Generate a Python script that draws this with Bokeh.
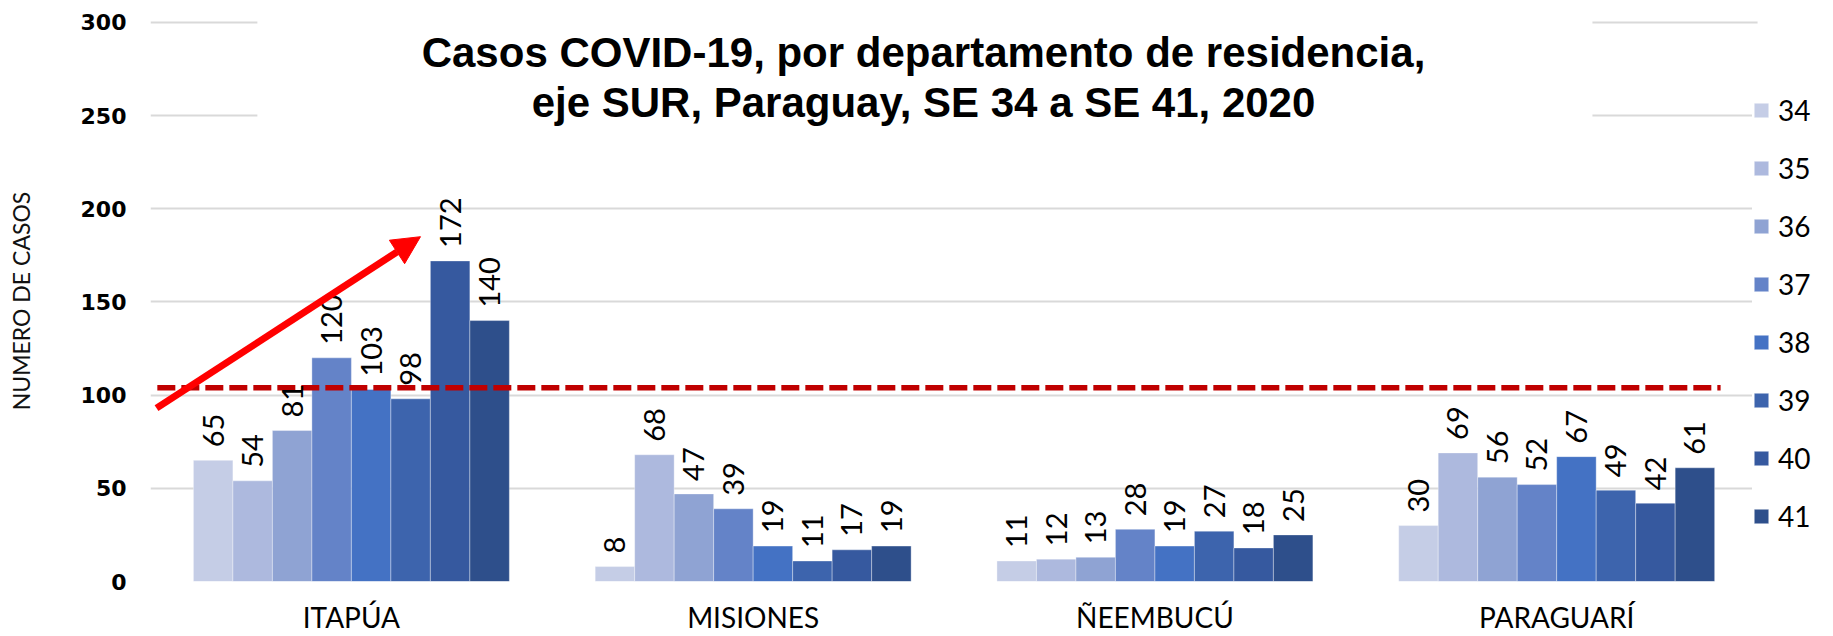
import numpy as np
from bokeh.plotting import figure
from bokeh.models import (ColumnDataSource, Range1d, FixedTicker, Legend, LegendItem,
                          Label, Arrow, NormalHead, BoxAnnotation)
from bokeh.core.properties import value
from bokeh.embed import file_html
from bokeh.resources import INLINE

# ---------------- data ----------------
departamentos = ["ITAPÚA", "MISIONES", "ÑEEMBUCÚ", "PARAGUARÍ"]
semanas = ["34", "35", "36", "37", "38", "39", "40", "41"]
se34 = [65, 8, 11, 30]
se35 = [54, 68, 12, 69]
se36 = [81, 47, 13, 56]
se37 = [120, 39, 28, 52]
se38 = [103, 19, 19, 67]
se39 = [98, 11, 27, 49]
se40 = [172, 17, 18, 42]
se41 = [140, 19, 25, 61]
series = [se34, se35, se36, se37, se38, se39, se40, se41]
colores = ["#C5CDE6", "#ADB9DE", "#8FA3D3", "#6483C8",
           "#4472C4", "#3D64AD", "#36599F", "#2E4F8B"]
umbral = 104
titulo_1 = "Casos COVID-19, por departamento de residencia,"
titulo_2 = "eje SUR, Paraguay, SE 34 a SE 41, 2020"
y_ticks = [0, 50, 100, 150, 200, 250, 300]

# ---------------- figure ----------------
# frame spans to the right edge so that the legend (inside the frame) is not clipped
p = figure(width=1833, height=636, x_range=Range1d(0, 4.189), y_range=Range1d(0, 301),
           output_backend="svg", toolbar_location=None,
           min_border_left=150, min_border_right=0, min_border_top=20, min_border_bottom=54)
p.outline_line_color = None
p.background_fill_color = "white"
p.xgrid.visible = False

p.yaxis.ticker = FixedTicker(ticks=y_ticks)
p.ygrid.grid_line_color = "#D9D9D9"
p.ygrid.grid_line_width = 1.8
p.yaxis.axis_line_color = None
p.yaxis.major_tick_line_color = None
p.yaxis.minor_tick_line_color = None
p.yaxis.major_tick_out = 0
p.yaxis.major_tick_in = 0
p.yaxis.major_label_text_font = "DejaVu Sans"
p.yaxis.major_label_text_font_style = "bold"
p.yaxis.major_label_text_font_size = "22px"
p.yaxis.major_label_text_color = "black"
p.yaxis.major_label_standoff = 24
p.yaxis.axis_label = "NUMERO DE CASOS"
p.yaxis.axis_label_text_font = "Lato"
p.yaxis.axis_label_text_font_style = "normal"
p.yaxis.axis_label_text_font_size = "23px"
p.yaxis.axis_label_text_color = "#111111"
p.yaxis.axis_label_standoff = 43

centros = [i + 0.5 for i in range(len(departamentos))]
p.xaxis.ticker = FixedTicker(ticks=centros)
p.xaxis.major_label_overrides = {c: d for c, d in zip(centros, departamentos)}
p.xaxis.axis_label = None
p.xaxis.axis_line_color = None
p.xaxis.major_tick_line_color = None
p.xaxis.minor_tick_line_color = None
p.xaxis.major_tick_out = 0
p.xaxis.major_tick_in = 0
p.xaxis.major_label_text_font = "Lato"
p.xaxis.major_label_text_font_size = "28px"
p.xaxis.major_label_text_color = "black"
p.xaxis.major_label_standoff = 18

# ---------------- bars ----------------
bar_w = 0.0983
n = len(semanas)
items = []
text_sources = []
for j, (sem, vals, col) in enumerate(zip(semanas, series, colores)):
    xs = [c + (j - (n - 1) / 2) * bar_w for c in centros]
    src = ColumnDataSource(dict(x=xs, top=vals, label=[str(v) for v in vals]))
    r = p.vbar(x="x", top="top", width=bar_w, bottom=0, source=src,
               fill_color=col, line_color="white", line_alpha=0.35, line_width=1)
    items.append(LegendItem(label=sem, renderers=[r]))
    text_sources.append(src)

# threshold dashed line
p.line(x=[0.017, 3.908], y=[umbral, umbral], line_color="#C00000",
       line_width=5.5, line_dash="18 6")

for src in text_sources:
    p.text(x="x", y="top", text="label", source=src, angle=np.pi / 2,
           text_align="left", text_baseline="middle", y_offset=-13,
           text_font=value("Lato"), text_font_size="29px", text_color="black")

# white area right of the plot (gridlines stop before the legend)
p.add_layout(BoxAnnotation(left=4.0, fill_color="white", fill_alpha=1.0, line_color=None))
# title background box (hides top gridlines)
p.add_layout(BoxAnnotation(left=0.266, right=3.589, bottom=231, top=312,
                           fill_color="white", fill_alpha=1.0, line_color=None))
p.add_layout(Label(x=1.924, y=284.0, text=titulo_1, text_align="center",
                   text_baseline="alphabetic", text_font="Liberation Sans",
                   text_font_style="bold", text_font_size="42px", text_color="black"))
p.add_layout(Label(x=1.924, y=256.8, text=titulo_2, text_align="center",
                   text_baseline="alphabetic", text_font="Liberation Sans",
                   text_font_style="bold", text_font_size="42px", text_color="black"))

# red trend arrow
p.add_layout(Arrow(end=NormalHead(size=28, fill_color="#FF0000", line_color="#FF0000"),
                   x_start=0.015, y_start=93, x_end=0.672, y_end=185,
                   line_color="#FF0000", line_width=7))

# legend
legend = Legend(items=items, location=(1602, 48), orientation="vertical",
                label_text_font="Lato", label_text_font_size="28px",
                label_text_color="black", glyph_width=18, glyph_height=18,
                label_standoff=8, spacing=24, padding=0, margin=0,
                border_line_color=None, background_fill_color="white",
                background_fill_alpha=1.0)
p.add_layout(legend)

open("out.html", "w").write(file_html(p, INLINE))
